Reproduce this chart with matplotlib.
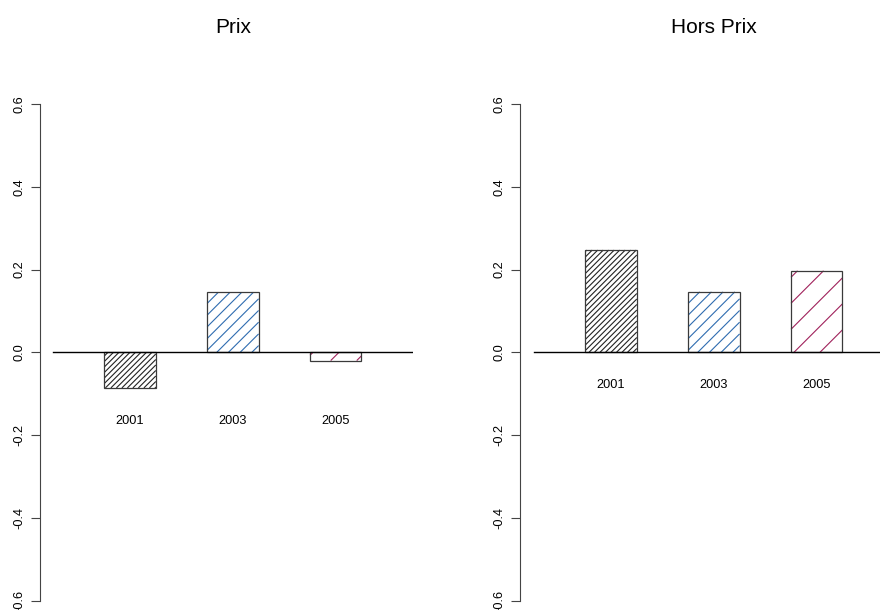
import matplotlib
matplotlib.use("Agg")
import matplotlib.pyplot as plt
import numpy as np
from matplotlib.collections import LineCollection

plt.rcParams['font.family'] = ['Liberation Sans', 'DejaVu Sans']

# ---- data ----
years = ['2001', '2003', '2005']
prix = [-0.086, 0.145, -0.020]
hors_prix = [0.247, 0.146, 0.197]
titles = ['Prix', 'Hors Prix']
yticks = [-0.6, -0.4, -0.2, 0.0, 0.2, 0.4, 0.6]
ytick_labels = ['-0.6', '-0.4', '-0.2', '0.0', '0.2', '0.4', '0.6']

# ---- style ----
hatch_colors = ['#222222', '#2f6cb0', '#a0225c']
hatch_spacing_px = [5.5, 11.7, 26.0]
edge_color = '#3a3a3a'

W, H = 880, 610
fig = plt.figure(figsize=(W / 100, H / 100), dpi=100)

px_per_x = 51.4
y_top, y_bot = 104.0, 600.6
px_per_y = (y_bot - y_top) / 1.2
bar_centers = [1.5, 3.5, 5.5]

# (axes left px, data-zero px, axes right px, values, title, data xmax for zero line)
panels = [(40, 53, 413, prix, titles[0], 7.0),
          (520, 534, 880, hors_prix, titles[1], 7.0)]

for L, X0, R, vals, title, xmax_line in panels:
    ax = fig.add_axes([L / W, (H - y_bot) / H, (R - L) / W, (y_bot - y_top) / H])
    ax.set_xlim(-(X0 - L) / px_per_x, (R - X0) / px_per_x)
    ax.set_ylim(-0.6, 0.6)
    ax.patch.set_alpha(0)

    # hatching (45 degree lines in pixel space)
    for c, v, col, s in zip(bar_centers, vals, hatch_colors, hatch_spacing_px):
        bx0 = (c - 0.5) * px_per_x
        bx1 = (c + 0.5) * px_per_x
        by0 = min(0, v) * px_per_y
        by1 = max(0, v) * px_per_y
        segs = []
        kmin = int(np.floor((by0 - bx1) / s)) - 1
        kmax = int(np.ceil((by1 - bx0) / s)) + 1
        for k in range(kmin, kmax + 1):
            off = k * s
            lo = max(bx0, by0 - off)
            hi = min(bx1, by1 - off)
            if hi > lo:
                segs.append([(lo / px_per_x, (lo + off) / px_per_y),
                             (hi / px_per_x, (hi + off) / px_per_y)])
        ax.add_collection(LineCollection(segs, colors=col, linewidths=0.8, zorder=1))

    ax.bar(bar_centers, vals, width=1.0, fill=False, edgecolor=edge_color,
           linewidth=0.9, zorder=2)
    ax.plot([0, xmax_line], [0, 0], color='black', lw=1.0, zorder=3, clip_on=True)

    label_y = min(0, min(vals)) - 0.08
    for c, yr in zip(bar_centers, years):
        ax.text(c, label_y, yr, ha='center', va='center', fontsize=9.2)

    for sp in ['top', 'right', 'bottom']:
        ax.spines[sp].set_visible(False)
    ax.spines['left'].set_color('#444444')
    ax.spines['left'].set_linewidth(0.8)
    ax.set_xticks([])
    ax.set_yticks(yticks)
    ax.set_yticklabels(ytick_labels, rotation=90, va='center', fontsize=9.2)
    ax.tick_params(axis='y', length=6.5, width=0.8, color='#444444', pad=4.3)

    fig.text(((X0 + X0 + 7 * px_per_x) / 2) / W, (H - 33) / H, title,
             ha='center', va='baseline', fontsize=15)

fig.savefig('out.png', dpi=100)
